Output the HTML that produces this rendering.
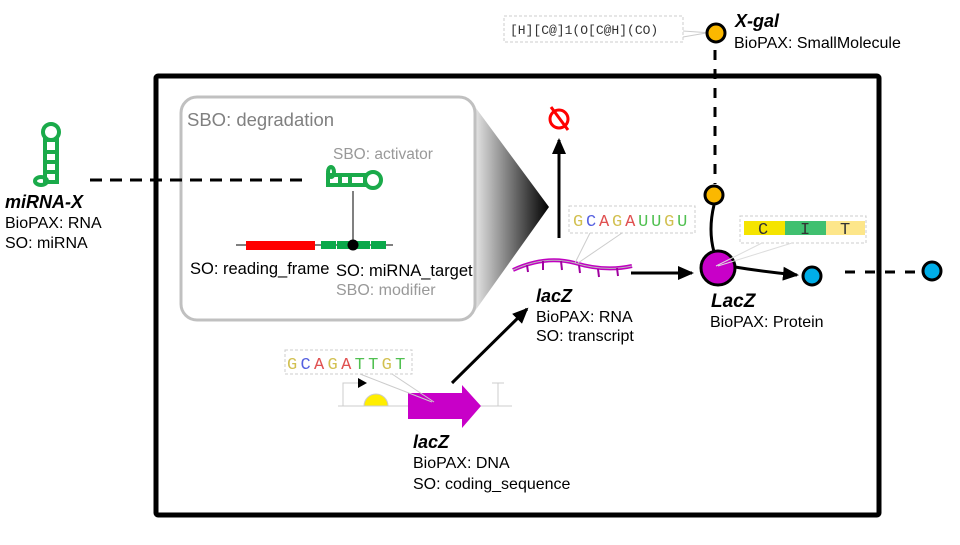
<!DOCTYPE html>
<html><head><meta charset="utf-8"><style>
body{margin:0;background:#fff;}
text{font-family:"Liberation Sans",sans-serif;}
text.m{font-family:"Liberation Mono","DejaVu Sans Mono",monospace;}
</style></head><body>
<svg width="960" height="540" viewBox="0 0 960 540" xmlns="http://www.w3.org/2000/svg">
<defs>
<linearGradient id="g" x1="0" x2="1" y1="0" y2="0"><stop offset="0" stop-color="#f4f4f4"/><stop offset="1" stop-color="#000"/></linearGradient>
<marker id="ah2" markerWidth="16" markerHeight="14" refX="14" refY="7" orient="auto" markerUnits="userSpaceOnUse"><path d="M0,0 L16,7 L0,14 z" fill="#000"/></marker>
</defs>
<rect x="156" y="76" width="723" height="439" fill="none" stroke="#000" stroke-width="5" rx="2"/>
<path d="M470,100 L549,207 L470,318 z" fill="url(#g)"/>
<rect x="181" y="97" width="294" height="223" rx="16" fill="#fff" stroke="#c0c0c0" stroke-width="3"/>
<text x="187" y="126" font-size="18.5" fill="#808080">SBO: degradation</text>
<text x="333" y="159" font-size="15.5" fill="#999">SBO: activator</text>
<line x1="90" y1="180" x2="310" y2="180" stroke="#000" stroke-width="3" stroke-dasharray="12,8"/>
<g stroke="#1aaa4a" stroke-width="4" fill="none">
<circle cx="51" cy="132" r="8"/>
<rect x="45" y="140" width="12" height="42"/>
<line x1="45" y1="152" x2="57" y2="152"/><line x1="45" y1="162" x2="57" y2="162"/><line x1="45" y1="172" x2="57" y2="172"/>
<ellipse cx="41" cy="181" rx="6" ry="4"/>
</g>
<text x="5" y="208" font-size="18" font-weight="bold" font-style="italic">miRNA-X</text>
<text x="5" y="228" font-size="16">BioPAX: RNA</text>
<text x="5" y="248" font-size="16">SO: miRNA</text>
<g stroke="#1aaa4a" stroke-width="4" fill="none">
<circle cx="373" cy="180" r="8"/>
<rect x="328" y="175" width="37" height="10"/>
<line x1="340" y1="175" x2="340" y2="185"/><line x1="350" y1="175" x2="350" y2="185"/>
<ellipse cx="331" cy="172" rx="3" ry="5"/>
</g>
<line x1="353" y1="191" x2="353" y2="245" stroke="#000" stroke-width="1"/>
<line x1="236" y1="245" x2="393" y2="245" stroke="#000" stroke-width="1"/>
<rect x="246" y="241" width="69" height="9" fill="#f00"/>
<g fill="#0aa84a"><rect x="321" y="241" width="15" height="8"/><rect x="337" y="241" width="15" height="8"/><rect x="355" y="241" width="15" height="8"/><rect x="371" y="241" width="15" height="8"/></g>
<circle cx="353" cy="245" r="5.5" fill="#000"/>
<text x="190" y="274" font-size="16.5">SO: reading_frame</text>
<text x="336" y="276" font-size="16.5">SO: miRNA_target</text>
<text x="336" y="295" font-size="16" fill="#999">SBO: modifier</text>
<line x1="559" y1="238" x2="559" y2="140" stroke="#000" stroke-width="3" marker-end="url(#ah2)"/>
<circle cx="559" cy="119" r="9" fill="none" stroke="#f00" stroke-width="3"/>
<line x1="551" y1="107" x2="568" y2="130" stroke="#f00" stroke-width="3"/>
<path d="M513,270 Q545,255 575,263 Q605,272 632,266" stroke="#c000c0" stroke-width="4" fill="none"/>
<path d="M513,270 Q545,255 575,263 Q605,272 632,266" stroke="#bbb" stroke-width="1" fill="none"/>
<g stroke="#a000a0" stroke-width="2"><line x1="527" y1="265" x2="528" y2="272"/><line x1="543" y1="261" x2="543" y2="270"/><line x1="561" y1="261" x2="562" y2="270"/><line x1="579" y1="265" x2="580" y2="273"/><line x1="598" y1="269" x2="599" y2="277"/><line x1="617" y1="268" x2="618" y2="276"/></g>
<rect x="569" y="206" width="126" height="27" fill="#fff" stroke="#ccc" stroke-dasharray="3,2"/>
<line x1="590" y1="233" x2="575" y2="263" stroke="#ccc"/><line x1="622" y1="233" x2="578" y2="263" stroke="#ccc"/>
<text x="573" y="226" font-size="17" class="m" letter-spacing="2.8"><tspan fill="#d2c050">G</tspan><tspan fill="#5560e0">C</tspan><tspan fill="#e05050">A</tspan><tspan fill="#d2c050">G</tspan><tspan fill="#e05050">A</tspan><tspan fill="#50c050">UU</tspan><tspan fill="#d2c050">G</tspan><tspan fill="#50c050">U</tspan></text>
<text x="536" y="302" font-size="18" font-weight="bold" font-style="italic">lacZ</text>
<text x="536" y="322" font-size="16">BioPAX: RNA</text>
<text x="536" y="341" font-size="16">SO: transcript</text>
<line x1="631" y1="273" x2="692" y2="273" stroke="#000" stroke-width="3" marker-end="url(#ah2)"/>
<line x1="715" y1="50" x2="715" y2="184" stroke="#000" stroke-width="3" stroke-dasharray="10,9"/>
<rect x="504" y="16" width="179" height="26" fill="#fff" stroke="#ccc" stroke-dasharray="3,2"/>
<line x1="683" y1="31" x2="712" y2="33" stroke="#ccc"/><line x1="683" y1="37" x2="712" y2="32" stroke="#ccc"/>
<text x="510" y="34" font-size="13" class="m" fill="#333">[H][C@]1(O[C@H](CO)</text>
<circle cx="716" cy="33" r="9" fill="#fbb800" stroke="#000" stroke-width="3"/>
<text x="735" y="27" font-size="18" font-weight="bold" font-style="italic">X-gal</text>
<text x="734" y="48" font-size="16">BioPAX: SmallMolecule</text>
<path d="M714,205 Q708,230 714,252" stroke="#000" stroke-width="3" fill="none"/>
<circle cx="714" cy="195" r="9" fill="#fbb800" stroke="#000" stroke-width="3"/>
<path d="M735,267 Q765,272 797,275" stroke="#000" stroke-width="3" fill="none" marker-end="url(#ah2)"/>
<circle cx="718" cy="268" r="17" fill="#c800c8" stroke="#000" stroke-width="3"/>
<circle cx="812" cy="276" r="9" fill="#00aee8" stroke="#000" stroke-width="3"/>
<line x1="845" y1="272" x2="920" y2="272" stroke="#000" stroke-width="3" stroke-dasharray="10,10"/>
<circle cx="932" cy="271" r="9" fill="#00aee8" stroke="#000" stroke-width="3"/>
<rect x="740" y="216" width="126" height="27" fill="#fff" stroke="#ccc" stroke-dasharray="3,2"/>
<rect x="744" y="221" width="41" height="14" fill="#f5e400"/><rect x="785" y="221" width="41" height="14" fill="#40c070"/><rect x="826" y="221" width="39" height="14" fill="#fde68a"/>
<line x1="762" y1="243" x2="716" y2="266" stroke="#ddd"/><line x1="792" y1="243" x2="718" y2="266" stroke="#ddd"/>
<text x="758" y="234" font-size="17" class="m" fill="#333">C</text><text x="800" y="234" font-size="17" class="m" fill="#333">I</text><text x="840" y="234" font-size="17" class="m" fill="#333">T</text>
<text x="711" y="307" font-size="19" font-weight="bold" font-style="italic">LacZ</text>
<text x="710" y="327" font-size="16">BioPAX: Protein</text>
<line x1="338" y1="406" x2="512" y2="406" stroke="#ccc" stroke-width="1"/>
<path d="M343,406 L343,383 L360,383" stroke="#ccc" fill="none"/>
<path d="M358,378 L367,383 L358,388 z" fill="#000"/>
<path d="M364,406 A12,12 0 0 1 388,406 z" fill="#ffee00" stroke="#ccc"/>
<path d="M498,406 L498,383 M492,383 L504,383" stroke="#ccc" fill="none"/>
<path d="M408,393 L462,393 L462,385 L481,406 L462,428 L462,419 L408,419 z" fill="#c800c8"/>
<rect x="285" y="350" width="127" height="24" fill="#fff" stroke="#ccc" stroke-dasharray="3,2"/>
<line x1="360" y1="374" x2="432" y2="402" stroke="#ccc"/><line x1="392" y1="374" x2="434" y2="402" stroke="#ccc"/>
<text x="287" y="369" font-size="17" class="m" letter-spacing="3.3"><tspan fill="#d2c050">G</tspan><tspan fill="#5560e0">C</tspan><tspan fill="#e05050">A</tspan><tspan fill="#d2c050">G</tspan><tspan fill="#e05050">A</tspan><tspan fill="#50c050">TT</tspan><tspan fill="#d2c050">G</tspan><tspan fill="#50c050">T</tspan></text>
<line x1="452" y1="383" x2="527" y2="309" stroke="#000" stroke-width="3" marker-end="url(#ah2)"/>
<text x="413" y="448" font-size="18" font-weight="bold" font-style="italic">lacZ</text>
<text x="413" y="468" font-size="16">BioPAX: DNA</text>
<text x="413" y="489" font-size="16">SO: coding_sequence</text>
</svg>
</body></html>
